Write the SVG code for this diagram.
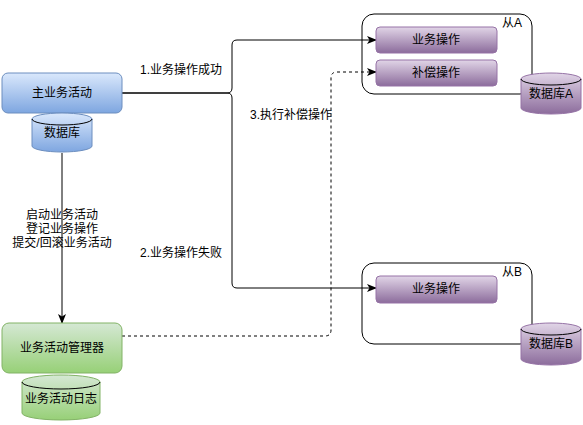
<svg xmlns="http://www.w3.org/2000/svg" width="583" height="425" viewBox="0 0 583 425">
<defs>
<linearGradient id="gBlue" x1="0" y1="0" x2="0" y2="1"><stop offset="0" stop-color="#dae8fc"/><stop offset="1" stop-color="#7ea6e0"/></linearGradient>
<linearGradient id="gGreen" x1="0" y1="0" x2="0" y2="1"><stop offset="0" stop-color="#d5e8d4"/><stop offset="1" stop-color="#97d077"/></linearGradient>
<linearGradient id="gPurple" x1="0" y1="0" x2="0" y2="1"><stop offset="0" stop-color="#e1d5e7"/><stop offset="1" stop-color="#8c6c9c"/></linearGradient>
<marker id="arr" viewBox="0 0 10 10" refX="9" refY="5" markerWidth="10" markerHeight="10" markerUnits="userSpaceOnUse" orient="auto">
<path d="M0,1 L10,5 L0,9 L2.5,5 Z" fill="#000"/>
</marker>
<style>
text{font-family:"Liberation Sans","Noto Sans CJK SC",sans-serif;font-size:12px;fill:#000}
.c{text-anchor:middle}
.edge{fill:none;stroke:#000;stroke-width:1}
.dash{stroke-dasharray:3,3}
.blue{fill:url(#gBlue);stroke:#6c8ebf}
.green{fill:url(#gGreen);stroke:#82b366}
.purple{fill:url(#gPurple);stroke:#9673a6}
.cont{fill:#fff;stroke:#000}
</style>
</defs>
<rect width="583" height="425" fill="#fff"/>
<g id="containerA">
<rect class="cont" x="362" y="14" width="170" height="80" rx="12"/>
<text x="502" y="27">从A</text>
</g>
<g id="containerB">
<rect class="cont" x="362" y="263" width="170" height="81" rx="12"/>
<text x="502" y="276">从B</text>
</g>
<g id="connectors">
<path class="edge" d="M122,93 H227 Q232,93 232,88 V45 Q232,40 237,40 H376" marker-end="url(#arr)"/>
<path class="edge" d="M122,93 H227 Q232,93 232,98 V283 Q232,288 237,288 H376" marker-end="url(#arr)"/>
<path class="edge dash" d="M122,336 H325 Q331,336 331,330 V78 Q331,72 337,72 H376" marker-end="url(#arr)"/>
<path class="edge" d="M62,153 V323" marker-end="url(#arr)"/>
<text x="140" y="74">1.业务操作成功</text>
<text x="250" y="119">3.执行补偿操作</text>
<text x="140" y="257">2.业务操作失败</text>
<text x="62" y="219" class="c">启动业务活动</text>
<text x="62" y="233" class="c">登记业务操作</text>
<text x="62" y="247" class="c">提交/回滚业务活动</text>
</g>
<g id="main">
<rect class="blue" x="2" y="73" width="120" height="40" rx="6"/>
<text x="62" y="97" class="c">主业务活动</text>
</g>
<g id="db">
<path class="blue" d="M32,119 A30,6 0 0 1 92,119 V146 A30,6 0 0 1 32,146 Z"/>
<path class="edge" d="M32,119 A30,6 0 0 0 92,119" stroke="#6c8ebf"/>
<text x="62" y="137" class="c">数据库</text>
</g>
<g id="manager">
<rect class="green" x="2" y="323" width="120" height="50" rx="7"/>
<text x="62" y="352" class="c">业务活动管理器</text>
</g>
<g id="log">
<path class="green" d="M22,382 A39,7 0 0 1 100,382 V413 A39,7 0 0 1 22,413 Z"/>
<path class="edge" d="M22,382 A39,7 0 0 0 100,382" stroke="#82b366"/>
<text x="61" y="403" class="c">业务活动日志</text>
</g>
<g id="opA">
<rect class="purple" x="376" y="27" width="121" height="26" rx="4"/>
<text x="436" y="44" class="c">业务操作</text>
</g>
<g id="compA">
<rect class="purple" x="376" y="60" width="121" height="26" rx="4"/>
<text x="436" y="77" class="c">补偿操作</text>
</g>
<g id="dbA">
<path class="purple" d="M521,79 A30,6 0 0 1 581,79 V108 A30,6 0 0 1 521,108 Z"/>
<path class="edge" d="M521,79 A30,6 0 0 0 581,79" stroke="#9673a6"/>
<text x="551" y="98" class="c">数据库A</text>
</g>
<g id="opB">
<rect class="purple" x="376" y="276" width="121" height="27" rx="4"/>
<text x="436" y="293" class="c">业务操作</text>
</g>
<g id="dbB">
<path class="purple" d="M521,329 A30,6 0 0 1 581,329 V359 A30,6 0 0 1 521,359 Z"/>
<path class="edge" d="M521,329 A30,6 0 0 0 581,329" stroke="#9673a6"/>
<text x="551" y="348" class="c">数据库B</text>
</g>
</svg>
